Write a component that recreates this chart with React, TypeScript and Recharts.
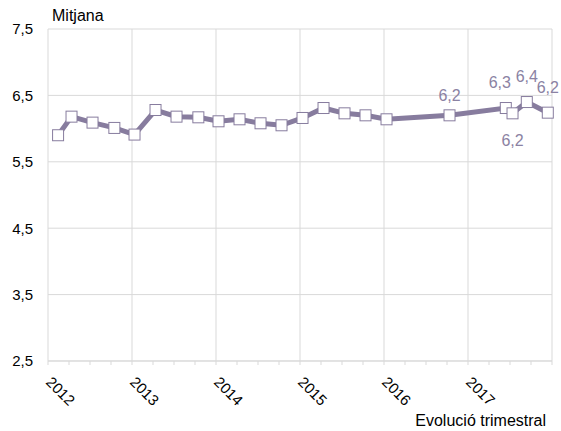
import React from 'react';
import { LineChart, Line, XAxis, YAxis, CartesianGrid, ReferenceLine, LabelList } from 'recharts';

// quarterly readings, position on the time axis in fractional years
const periods = [
  2012.12, 2012.28, 2012.53, 2012.79, 2013.03, 2013.28, 2013.53, 2013.79,
  2014.03, 2014.28, 2014.53, 2014.78, 2015.03, 2015.28, 2015.53, 2015.78,
  2016.03, 2016.78, 2017.45, 2017.53, 2017.7, 2017.95,
];
const mitjana = [
  5.9, 6.18, 6.09, 6.01, 5.91, 6.28, 6.18, 6.17, 6.11, 6.14, 6.08, 6.05,
  6.16, 6.31, 6.23, 6.2, 6.14, 6.2, 6.31, 6.23, 6.4, 6.24,
];
const years = [2012, 2013, 2014, 2015, 2016, 2017, 2018];
const yTicks = [2.5, 3.5, 4.5, 5.5, 6.5, 7.5];
const firstLabelled = 17;

const data = periods.map((t, i) => ({ t, v: mitjana[i] }));
const quarterTicks: number[] = [];
years.slice(0, -1).forEach((y) => [0, 0.25, 0.5, 0.75].forEach((q) => quarterTicks.push(y + q)));
quarterTicks.push(years[years.length - 1]);

const PURPLE = '#877c9e';
const LABEL = '#8b82a3';
const GRID = '#d9d9d9';
const FONT = '"Liberation Sans", Arial, sans-serif';

const comma = (v: number) => v.toFixed(1).replace('.', ',');

const YearTick = (props: any) => {
  const { x, payload } = props;
  const v = payload.value;
  if (!Number.isInteger(v) || v >= 2018) return <g />;
  const tx = x - 3;
  const ty = 383;
  return (
    <text x={tx} y={ty} transform={`rotate(45 ${tx} ${ty})`} textAnchor="start" fontSize={15} fill="#000" fontFamily={FONT}>
      {v}
    </text>
  );
};

const SquareDot = (props: any) => {
  const { cx, cy, index } = props;
  return <rect key={index} x={cx - 5.5} y={cy - 5.5} width={11} height={11} fill="#fff" stroke={PURPLE} strokeWidth={1} />;
};

const renderLabel = (props: any) => {
  const { x, y, value, index } = props;
  if (index < firstLabelled) return null;
  const k = index - firstLabelled;
  // the dip at 2017.53 sits under its neighbours, so its label goes below
  let dy = k === 0 ? -14 : -20;
  if (k === 2) dy = 33;
  const dx = k === 1 ? -6 : 0;
  return (
    <text x={x + dx} y={y + dy} textAnchor="middle" fontSize={16} fill={LABEL} fontFamily={FONT}>
      {comma(value)}
    </text>
  );
};

export default function App() {
  return (
    <div style={{ position: 'absolute', left: 0, top: 0, width: 561, height: 431, background: '#fff', fontFamily: FONT }}>
      <div style={{ position: 'absolute', left: 52, top: 8, fontSize: 16, lineHeight: '16px' }}>Mitjana</div>
      <div style={{ position: 'absolute', right: 15, top: 413, fontSize: 16, lineHeight: '16px', whiteSpace: 'nowrap' }}>
        Evolució trimestral
      </div>
      <LineChart width={561} height={431} data={data} margin={{ top: 29, right: 9, left: 0, bottom: 30 }}>
        <CartesianGrid vertical={false} stroke={GRID} />
        {years.map((y) => (
          <ReferenceLine key={y} x={y} stroke={GRID} />
        ))}
        <XAxis
          type="number"
          dataKey="t"
          domain={[2012, 2018]}
          ticks={quarterTicks}
          interval={0}
          height={40}
          axisLine={{ stroke: GRID }}
          tickLine={{ stroke: GRID }}
          tickSize={4}
          tick={<YearTick />}
        />
        <YAxis
          type="number"
          domain={[2.5, 7.5]}
          ticks={yTicks}
          interval={0}
          width={48}
          axisLine={false}
          tickLine={false}
          tickSize={0}
          tickMargin={15}
          tickFormatter={comma}
          tick={{ fontSize: 15, fill: '#000', fontFamily: FONT }}
        />
        <Line
          type="linear"
          dataKey="v"
          stroke={PURPLE}
          strokeWidth={5}
          dot={SquareDot}
          activeDot={false}
          isAnimationActive={false}
        >
          <LabelList dataKey="v" content={renderLabel} />
        </Line>
      </LineChart>
    </div>
  );
}
